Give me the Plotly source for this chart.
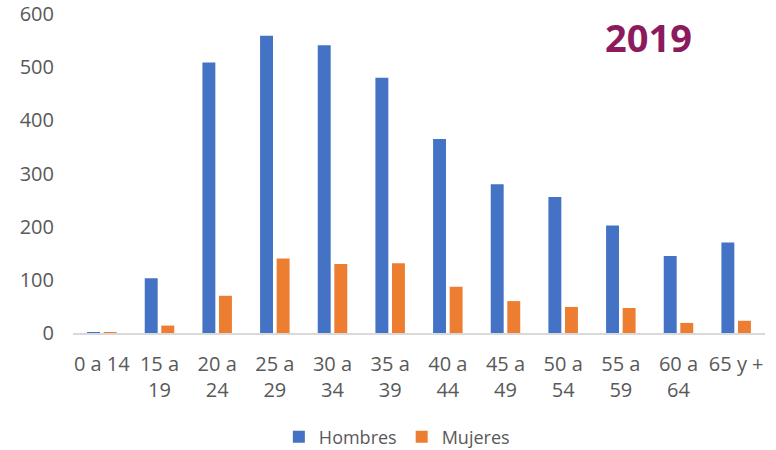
import plotly.graph_objects as go

categorias = ["0 a 14", "15 a<br>19", "20 a<br>24", "25 a<br>29", "30 a<br>34", "35 a<br>39",
              "40 a<br>44", "45 a<br>49", "50 a<br>54", "55 a<br>59", "60 a<br>64", "65 y +"]
hombres = [1, 103, 509, 559, 541, 480, 365, 280, 256, 202, 145, 170]
mujeres = [1, 14, 70, 140, 130, 131, 87, 60, 49, 47, 19, 23]
y_ticks = [0, 100, 200, 300, 400, 500, 600]

FONT = "Open Sans"
GRAY = "#595959"

fig = go.Figure()
fig.add_trace(go.Bar(x=categorias, y=hombres, name="Hombres",
                     marker=dict(color="#4472C4", line=dict(width=0))))
fig.add_trace(go.Bar(x=categorias, y=mujeres, name="Mujeres",
                     marker=dict(color="#ED7D31", line=dict(width=0))))

fig.update_layout(
    width=776, height=450,
    margin=dict(l=73, r=11, t=14, b=117, autoexpand=False),
    paper_bgcolor="white", plot_bgcolor="white",
    barmode="group", bargap=0.425, bargroupgap=0.22,
    font=dict(family=FONT, size=20, color=GRAY),
    showlegend=True,
    legend=dict(orientation="h", x=0.468, xanchor="center", y=-0.326, yanchor="middle",
                font=dict(family=FONT, size=18, color=GRAY), itemsizing="constant"),
    xaxis=dict(showline=True, linecolor="#D9D9D9", linewidth=1.5, showgrid=False,
               ticks="", tickfont=dict(family=FONT, size=20, color=GRAY), tickangle=0,
               ticklabelstandoff=12, automargin=False),
    yaxis=dict(range=[0, 600], tickvals=y_ticks, showgrid=False, zeroline=False,
               showline=False, ticks="", ticklabelstandoff=18, automargin=False,
               ticklabeloverflow="allow",
               tickfont=dict(family=FONT, size=20, color=GRAY)),
    annotations=[dict(text="<b>2019</b>", xref="paper", yref="paper", x=0.831, y=0.928,
                      xanchor="center", yanchor="middle", showarrow=False,
                      font=dict(family=FONT, size=38, color="#8B1A5E"))],
)

fig.write_html("out.html", config={"displayModeBar": False},
               post_script="document.body.style.margin='0';")
